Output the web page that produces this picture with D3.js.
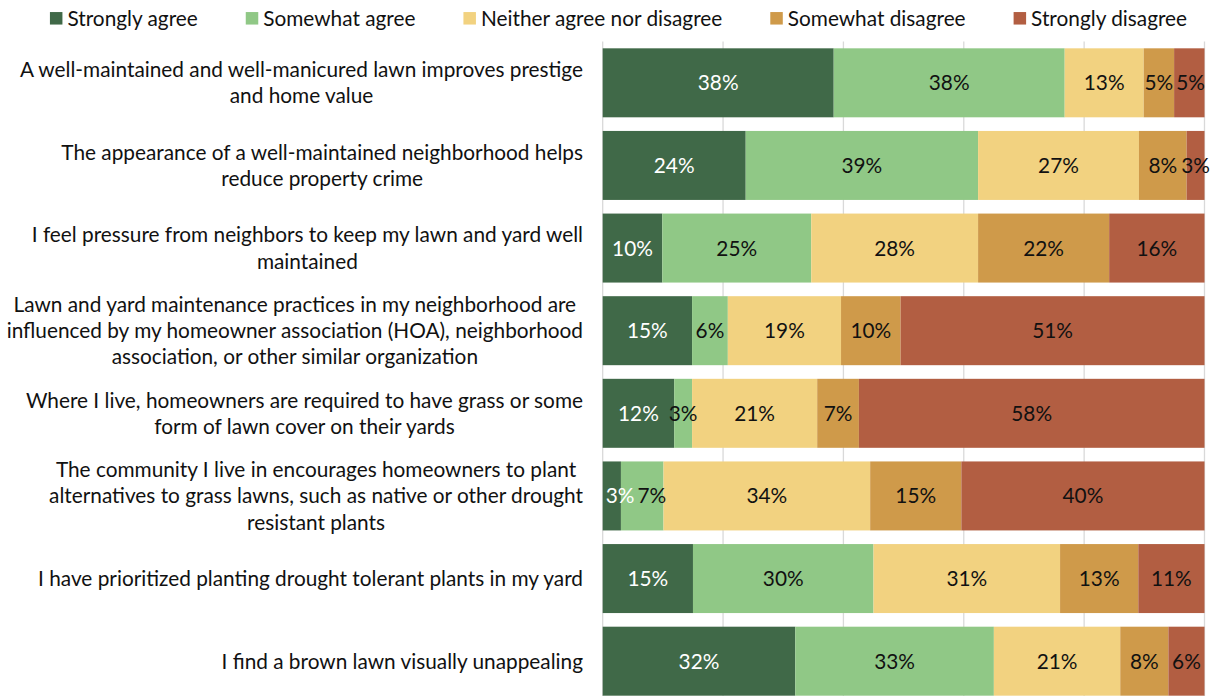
<!DOCTYPE html>
<html>
<head>
<meta charset="utf-8">
<script src="https://cdn.jsdelivr.net/npm/d3@7"></script>
<style>
  html, body { margin: 0; padding: 0; background: #ffffff; }
  svg { display: block; font-family: Lato, "Open Sans", sans-serif; }
</style>
</head>
<body>
<svg id="chart" width="1215" height="696"></svg>
<script>
// Survey statements (line breaks as wrapped on the category axis)
const categories = [
  "A well-maintained and well-manicured lawn improves prestige\nand home value",
  "The appearance of a well-maintained neighborhood helps\nreduce property crime",
  "I feel pressure from neighbors to keep my lawn and yard well\nmaintained",
  "Lawn and yard maintenance practices in my neighborhood are\ninfluenced by my homeowner association (HOA), neighborhood\nassociation, or other similar organization",
  "Where I live, homeowners are required to have grass or some\nform of lawn cover on their yards",
  "The community I live in encourages homeowners to plant\nalternatives to grass lawns, such as native or other drought\nresistant plants",
  "I have prioritized planting drought tolerant plants in my yard",
  "I find a brown lawn visually unappealing"
];

const seriesNames = ["Strongly agree", "Somewhat agree", "Neither agree nor disagree", "Somewhat disagree", "Strongly disagree"];

// Percent of respondents per answer, one value per statement
const stronglyAgree    = [38, 24, 10, 15, 12,  3, 15, 32];
const somewhatAgree    = [38, 39, 25,  6,  3,  7, 30, 33];
const neitherAgree     = [13, 27, 28, 19, 21, 34, 31, 21];
const somewhatDisagree = [ 5,  8, 22, 10,  7, 15, 13,  8];
const stronglyDisagree = [ 5,  3, 16, 51, 58, 40, 11,  6];

// Gridline positions (share of 100%)
const gridTicks = [0, 0.2, 0.4, 0.6, 0.8, 1];

const seriesValues = [stronglyAgree, somewhatAgree, neitherAgree, somewhatDisagree, stronglyDisagree];
const colors = ["#406948", "#90c886", "#f2d280", "#cf9a4a", "#b25e42"];
const labelColors = ["#ffffff", "#111111", "#111111", "#111111", "#111111"];

const rows = categories.map((c, i) => {
  const r = { category: c, index: i };
  seriesNames.forEach((s, k) => { r[s] = seriesValues[k][i]; });
  return r;
});

// 100% stacked layout: each row normalised to its total
const stack = d3.stack().keys(seriesNames).offset(d3.stackOffsetExpand);
const stacked = stack(rows);

const svg = d3.select("#chart");
const fontSize = 20.8;

const x = d3.scaleLinear().domain([0, 1]).range([602.7, 1204.5]);
const y = d3.scaleBand()
  .domain(rows.map(d => d.index))
  .range([41.5, 702.5])
  .paddingInner(0.165)
  .paddingOuter(0.0825);

// Vertical gridlines
svg.append("g")
  .selectAll("line")
  .data(gridTicks)
  .join("line")
  .attr("x1", d => x(d)).attr("x2", d => x(d))
  .attr("y1", y.range()[0]).attr("y2", y.range()[1])
  .attr("stroke", "#d9d9d9")
  .attr("stroke-width", 1.3);

// Bars
const layers = svg.append("g")
  .selectAll("g")
  .data(stacked)
  .join("g")
  .attr("fill", (d, k) => colors[k]);

layers.selectAll("rect")
  .data(d => d)
  .join("rect")
  .attr("x", d => x(d[0]))
  .attr("width", d => x(d[1]) - x(d[0]))
  .attr("y", d => y(d.data.index))
  .attr("height", y.bandwidth());

// Value labels centred in each segment; kept inside the plot's left edge
// and nudged right when they would collide with the previous label in the row
const labels = svg.append("g")
  .attr("font-size", fontSize)
  .attr("text-anchor", "middle");

const lastRight = rows.map(() => -Infinity);
stacked.forEach((layer, k) => {
  labels.selectAll(null)
    .data(layer)
    .join("text")
    .attr("y", d => y(d.data.index) + y.bandwidth() / 2)
    .attr("dy", "0.36em")
    .attr("fill", labelColors[k])
    .text(d => d.data[layer.key] + "%")
    .each(function (d) {
      const i = d.data.index;
      const w = this.getComputedTextLength();
      let cxl = Math.max((x(d[0]) + x(d[1])) / 2, x(0) + 3 + w / 2);
      if (cxl - w / 2 < lastRight[i] + 3) cxl = lastRight[i] + 3 + w / 2;
      lastRight[i] = cxl + w / 2;
      d3.select(this).attr("x", cxl);
    });
});

// Category labels: block right-aligned to the axis, lines centred within the block
const catRight = 583;
const lineHeight = 26.3;
const catG = svg.append("g").attr("font-size", fontSize).attr("fill", "#111111");

rows.forEach(r => {
  const lines = r.category.split("\n");
  const g = catG.append("g");
  const texts = lines.map((ln, j) => g.append("text")
    .attr("text-anchor", "middle")
    .attr("y", y(r.index) + y.bandwidth() / 2 + (j - (lines.length - 1) / 2) * lineHeight)
    .attr("dy", "0.36em")
    .text(ln));
  const maxW = d3.max(texts, t => t.node().getComputedTextLength());
  texts.forEach(t => t.attr("x", catRight - maxW / 2));
});

// Legend across the top
const legend = svg.append("g").attr("font-size", fontSize).attr("fill", "#111111");
const sw = 12.5, textGap = 5, itemGap = 48, legendY = 18.3;
const items = seriesNames.map((s, k) => {
  const g = legend.append("g");
  g.append("rect").attr("width", sw).attr("height", sw).attr("y", legendY - sw / 2).attr("fill", colors[k]);
  const t = g.append("text").attr("x", sw + textGap).attr("y", legendY).attr("dy", "0.36em").text(s);
  return { g, w: sw + textGap + t.node().getComputedTextLength() };
});
const totalW = d3.sum(items, d => d.w) + itemGap * (items.length - 1);
let cx = 618.5 - totalW / 2;
items.forEach(it => {
  it.g.attr("transform", `translate(${cx},0)`);
  cx += it.w + itemGap;
});
</script>
</body>
</html>
